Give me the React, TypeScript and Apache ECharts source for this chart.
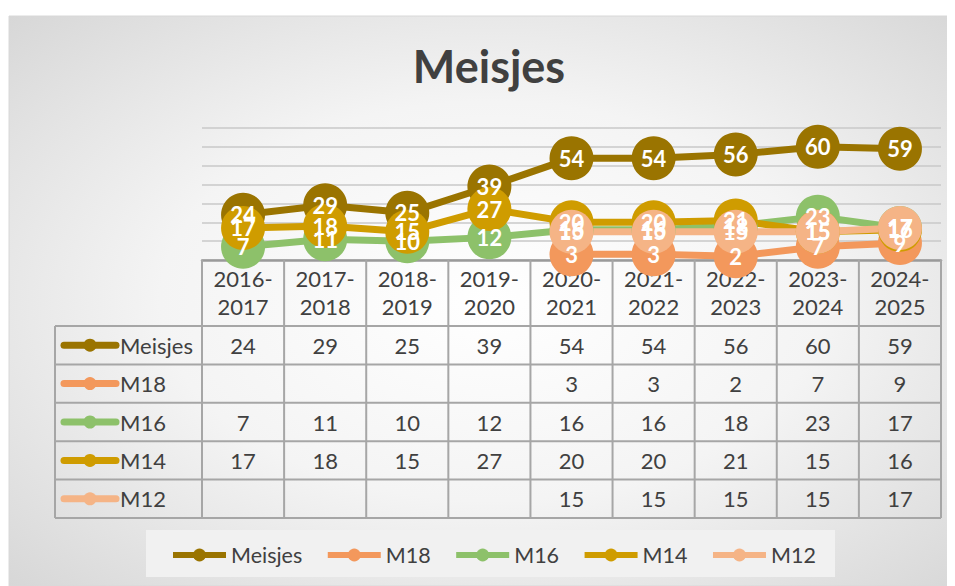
import React, { useEffect, useRef } from 'react';
import * as echarts from 'echarts';

const categories = ['2016-2017', '2017-2018', '2018-2019', '2019-2020', '2020-2021', '2021-2022', '2022-2023', '2023-2024', '2024-2025'];
const meisjes = [24, 29, 25, 39, 54, 54, 56, 60, 59];
const m18 = [null, null, null, null, 3, 3, 2, 7, 9];
const m16 = [7, 11, 10, 12, 16, 16, 18, 23, 17];
const m14 = [17, 18, 15, 27, 20, 20, 21, 15, 16];
const m12 = [null, null, null, null, 15, 15, 15, 15, 17];
const seriesNames = ['Meisjes', 'M18', 'M16', 'M14', 'M12'];
const seriesData = [meisjes, m18, m16, m14, m12];
const seriesColors = ['#9A7400', '#F3985C', '#8DC16A', '#CF9C00', '#F5B486'];
const yMin = 0;
const yMax = 70;
const yInterval = 10;
const titleText = 'Meisjes';

const FONT = 'Lato';
const TEXT = '#404040';
const TABLE_LINE = '#A6A6A6';

export default function App() {
  const ref = useRef<HTMLDivElement>(null);
  useEffect(() => {
    if (!ref.current) return;
    const chart = echarts.init(ref.current, undefined, { renderer: 'svg' });
    const W = 947;
    const H = 578;
    const grid = { left: 194, right: 14, top: 120, bottom: 326 };
    const option: any = {
      animation: false,
      title: {
        text: titleText,
        left: 476,
        top: 30,
        textAlign: 'center',
        textStyle: { fontSize: 45, fontWeight: 'bold', color: TEXT, fontFamily: FONT },
      },
      grid: { ...grid, containLabel: false },
      xAxis: {
        type: 'category',
        data: categories,
        boundaryGap: true,
        axisLine: { show: true, lineStyle: { color: '#9A9A9A', width: 2.5 } },
        axisTick: { show: false },
        axisLabel: { show: false },
        splitLine: { show: false },
      },
      yAxis: {
        type: 'value',
        min: yMin,
        max: yMax,
        interval: yInterval,
        axisLine: { show: false },
        axisTick: { show: false },
        axisLabel: { show: false },
        splitLine: { show: true, lineStyle: { color: '#C8C8C8', width: 1.5 } },
      },
      legend: {
        show: true,
        left: 157,
        top: 531,
        itemWidth: 53,
        itemHeight: 16,
        itemGap: 22.5,
        textStyle: { fontSize: 21.5, color: TEXT, fontFamily: FONT },
        lineStyle: { width: 6 },
        data: seriesNames,
      },
      series: seriesNames.map((name, i) => ({
        name,
        type: 'line',
        data: seriesData[i],
        symbol: 'circle',
        symbolSize: 44,
        lineStyle: { color: seriesColors[i], width: 7 },
        itemStyle: { color: seriesColors[i] },
        label: {
          show: true,
          position: 'inside',
          color: '#ffffff',
          fontSize: 22,
          fontWeight: 'bold',
          fontFamily: FONT,
        },
      })),
    };
    chart.setOption(option);

    const xs = categories.map((c) => chart.convertToPixel({ xAxisIndex: 0 }, c) as number);
    const y0 = chart.convertToPixel({ yAxisIndex: 0 }, yMin) as number;
    const colW = xs.length > 1 ? xs[1] - xs[0] : 80;
    const tableLeft = 47;
    const dataLeft = xs[0] - colW / 2;
    const dataRight = xs[xs.length - 1] + colW / 2;
    const headerH = 66;
    const rowH = 38.4;
    const rowsTop = y0 + headerH;
    const tableBottom = rowsTop + rowH * seriesNames.length;
    const TS = 22;

    const g: any[] = [];
    g.push({
      type: 'rect',
      z: -100,
      shape: { x: 1, y: 8, width: W - 1, height: H - 8 },
      style: {
        fill: new echarts.graphic.RadialGradient(0.51, 0.5, 1.0, [
          { offset: 0, color: '#FFFFFF' },
          { offset: 0.35, color: '#F4F4F4' },
          { offset: 1, color: '#C0C0C0' },
        ]),
        stroke: '#D8D8D8',
        lineWidth: 1,
      },
      silent: true,
    });
    g.push({
      type: 'rect',
      z: -50,
      shape: { x: 138, y: 522, width: 689, height: 47 },
      style: { fill: '#F1F1F1' },
      silent: true,
    });
    const hl = (x1: number, x2: number, y: number) =>
      g.push({ type: 'line', z: 1, shape: { x1, y1: y, x2, y2: y }, style: { stroke: TABLE_LINE, lineWidth: 2 }, silent: true });
    const vl = (x: number, y1: number, y2: number) =>
      g.push({ type: 'line', z: 1, shape: { x1: x, y1, x2: x, y2 }, style: { stroke: TABLE_LINE, lineWidth: 2 }, silent: true });
    for (let r = 0; r <= seriesNames.length; r++) hl(tableLeft, dataRight, rowsTop + r * rowH);
    vl(tableLeft, rowsTop, tableBottom);
    for (let c = 0; c <= categories.length; c++) vl(dataLeft + c * colW, y0, tableBottom);
    categories.forEach((cat, c) => {
      g.push({
        type: 'text',
        z: 1,
        x: xs[c],
        y: y0 + headerH / 2 - 1,
        style: {
          text: cat.replace('-', '-\n'),
          fill: TEXT,
          fontSize: TS,
          fontFamily: FONT,
          lineHeight: 28,
          align: 'center',
          verticalAlign: 'middle',
        },
        silent: true,
      });
    });
    seriesNames.forEach((name, r) => {
      const cy = rowsTop + rowH * r + rowH / 2;
      g.push({ type: 'line', z: 1, shape: { x1: 56, y1: cy, x2: 108, y2: cy }, style: { stroke: seriesColors[r], lineWidth: 7, lineCap: 'round' }, silent: true });
      g.push({ type: 'circle', z: 1, shape: { cx: 82, cy, r: 6.5 }, style: { fill: seriesColors[r] }, silent: true });
      g.push({
        type: 'text',
        z: 1,
        x: 112,
        y: cy,
        style: { text: name, fill: TEXT, fontSize: TS, fontFamily: FONT, align: 'left', verticalAlign: 'middle' },
        silent: true,
      });
      seriesData[r].forEach((v, c) => {
        if (v === null || v === undefined) return;
        g.push({
          type: 'text',
          z: 1,
          x: xs[c],
          y: cy,
          style: { text: String(v), fill: TEXT, fontSize: TS, fontFamily: FONT, align: 'center', verticalAlign: 'middle' },
          silent: true,
        });
      });
    });
    chart.setOption({ graphic: { elements: g } });
    return () => chart.dispose();
  }, []);
  return <div ref={ref} style={{ width: 947, height: 578 }} />;
}
